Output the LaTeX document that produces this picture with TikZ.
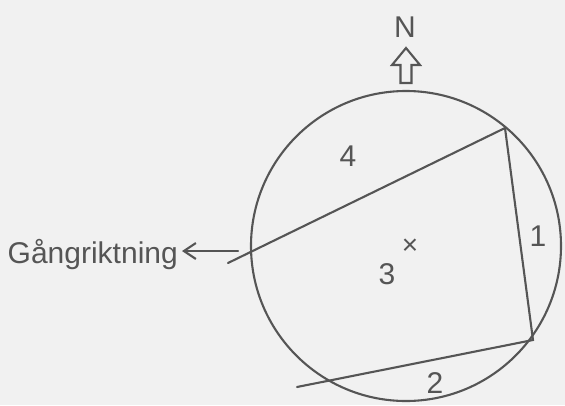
\documentclass[tikz,border=0pt]{standalone}
\usepackage{fontspec}
\setmainfont{Liberation Sans}
\usetikzlibrary{arrows.meta,positioning,calc}
\definecolor{paperGray}{HTML}{F1F1F1}
\definecolor{inkGray}{HTML}{555555}

\begin{document}
\begin{tikzpicture}[x=1pt,y=-1pt,
    ink/.style={draw=inkGray,line width=2.1pt,line cap=round},
    lab/.style={text=inkGray,font=\fontsize{30}{32}\selectfont,inner sep=0pt}]
        \fill[paperGray] (0,0) rectangle (565,405);
        \useasboundingbox (0,0) rectangle (565,405);
        % circle and cut points
        \coordinate (ctr) at (406,246);
        \draw[ink] (ctr) circle[radius=155];
        \coordinate (vNE) at (505,128);
        \coordinate (vSE) at (533,340);
        \coordinate (endW) at (228,263);
        \coordinate (endSW) at (297,387);
        \draw[ink] (endW) -- (vNE) -- (vSE) -- (endSW);
        % labels
        \node[lab] (f4) at (348,156) {4};
        \node[lab] (f1) at (538,236) {1};
        \node[lab] (f3) at (387,274) {3};
        \node[lab] (f2) at (435,383) {2};
        \node[lab,font=\fontsize{28}{30}\selectfont] (mid) at (410,247) {×};
        % north arrow
        \node[lab] (north) at (405,27) {N};
        \coordinate (ntip) at (406,48);
        \draw[ink,line cap=butt,line join=miter] (ntip) -- ++(14,17) -- ++(-8.5,0) -- ++(0,18)
          -- ++(-11,0) -- ++(0,-18) -- ++(-8.5,0) -- cycle;
        % walking direction
        \node[lab,anchor=base east] (gang) at (178,263) {Gångriktning};
        \coordinate (walkstart) at (238,251);
        \draw[ink,-{Straight Barb[length=12pt,width=16pt]},shorten >=4pt] (walkstart) -- (gang.east |- walkstart);
      \end{tikzpicture}
\end{document}
